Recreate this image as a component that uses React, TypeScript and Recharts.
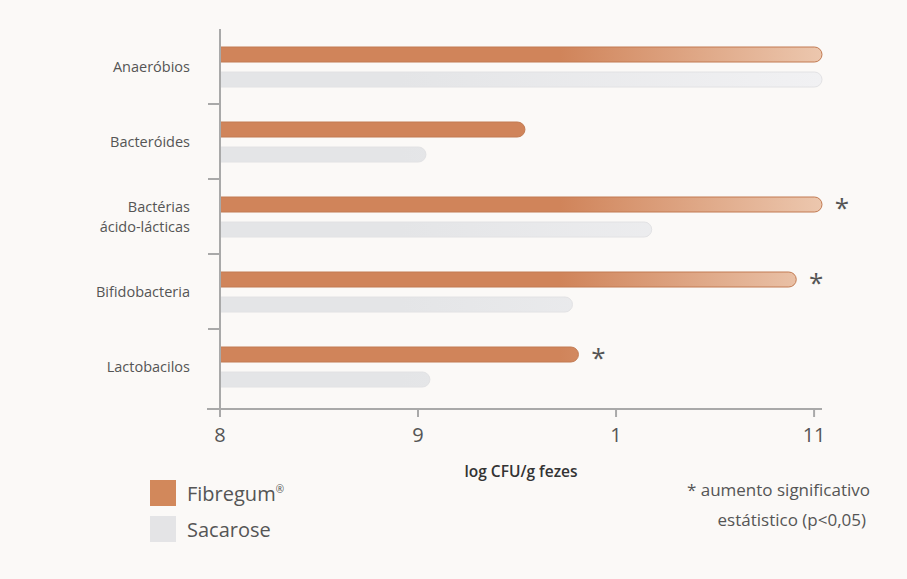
import React from 'react';
import { BarChart, Bar, XAxis, YAxis, LabelList, Label } from 'recharts';

const categories = ['Anaeróbios', 'Bacteróides', 'Bactérias\nácido-lácticas', 'Bifidobacteria', 'Lactobacilos'];
const fibregum = [11.04, 9.54, 11.04, 10.91, 9.81];
const sacarose = [11.04, 9.04, 10.18, 9.78, 9.06];
const significant = [false, false, true, true, true];
const xTicks = [8, 9, 10, 11];
const xTickLabels = ['8', '9', '1', '11'];
const seriesNames = ['Fibregum', 'Sacarose'];
const seriesColors = ['#d2885b', '#e4e4e6'];

const data = categories.map((name, i) => ({
  name,
  fibregum: fibregum[i],
  sacarose: sacarose[i],
}));

const FONT = '"Open Sans", sans-serif';
const TEXT = '#555555';
const AXIS = '#a9a9a9';
const HALF_BAND = 37.5;

function CategoryTick(props: any) {
  const { x, y, payload, index } = props;
  const lines = String(payload.value).split('\n');
  const lh = 20;
  const startY = y - ((lines.length - 1) * lh) / 2;
  return (
    <g>
      {index > 0 && (
        <line x1={x + 18} x2={x + 31} y1={y - HALF_BAND} y2={y - HALF_BAND} stroke={AXIS} strokeWidth={2} />
      )}
      {index === categories.length - 1 && (
        <line x1={x + 17} x2={x + 30} y1={y + HALF_BAND + 5} y2={y + HALF_BAND + 5} stroke={AXIS} strokeWidth={2} />
      )}
      {lines.map((l, i) => (
        <text
          key={i}
          x={x}
          y={startY + i * lh}
          textAnchor="end"
          fill={TEXT}
          fontSize={14.5}
          fontFamily={FONT}
          dominantBaseline="central"
        >
          {l}
        </text>
      ))}
    </g>
  );
}

function Asterisk(props: any) {
  const { x, y, width, height, index } = props;
  if (!significant[index]) return null;
  return (
    <text x={x + width + 20} y={y + height / 2 + 12} textAnchor="middle" fill={TEXT} fontSize={26} fontFamily={FONT}>
      *
    </text>
  );
}

export default function App() {
  return (
    <div
      style={{
        position: 'absolute',
        left: 0,
        top: 0,
        width: 907,
        height: 579,
        background: '#fbf9f7',
        fontFamily: FONT,
      }}
    >
      <BarChart
        width={907}
        height={579}
        data={data}
        layout="vertical"
        margin={{ top: 29, right: 85, bottom: 100, left: 0 }}
        barSize={15}
        barGap={10}
      >
        <defs>
          <linearGradient id="orangeGrad" gradientUnits="userSpaceOnUse" x1="560" y1="0" x2="822" y2="0">
            <stop offset="0%" stopColor="#d0845a" />
            <stop offset="100%" stopColor="#ecc7ae" />
          </linearGradient>
          <linearGradient id="grayGrad" gradientUnits="userSpaceOnUse" x1="400" y1="0" x2="822" y2="0">
            <stop offset="0%" stopColor="#e4e5e7" />
            <stop offset="100%" stopColor="#f1f1f3" />
          </linearGradient>
        </defs>
        <XAxis
          type="number"
          domain={[8, 11.04]}
          ticks={xTicks}
          tickFormatter={(v: number) => xTickLabels[xTicks.indexOf(v)]}
          stroke={AXIS}
          strokeWidth={2}
          tickSize={8}
          tickMargin={11}
          height={70}
          tick={{ fill: TEXT, fontSize: 20, fontFamily: FONT }}
        >
          <Label
            value="log CFU/g fezes"
            position="insideBottom"
            offset={2}
            style={{ fill: '#333333', fontSize: 15.5, fontFamily: FONT, fontWeight: 600 }}
          />
        </XAxis>
        <YAxis
          type="category"
          dataKey="name"
          width={220}
          stroke={AXIS}
          strokeWidth={2}
          tickLine={false}
          tickSize={0}
          tickMargin={30}
          padding={{ top: 0, bottom: 5 }}
          tick={<CategoryTick />}
          interval={0}
        />
        <Bar
          dataKey="fibregum"
          name={seriesNames[0]}
          fill="url(#orangeGrad)"
          stroke="#c27b52"
          strokeWidth={1}
          radius={[0, 7.5, 7.5, 0]}
          isAnimationActive={false}
        >
          <LabelList dataKey="fibregum" content={<Asterisk />} />
        </Bar>
        <Bar
          dataKey="sacarose"
          name={seriesNames[1]}
          fill="url(#grayGrad)"
          stroke="#e2e2e4"
          strokeWidth={1}
          radius={[0, 7.5, 7.5, 0]}
          isAnimationActive={false}
        />
      </BarChart>
      <div style={{ position: 'absolute', left: 150, top: 475 }}>
        {seriesNames.map((n, i) => (
          <div key={n} style={{ display: 'flex', alignItems: 'center', height: 36 }}>
            <div style={{ width: 26, height: 26, background: seriesColors[i], marginRight: 11 }} />
            <span style={{ fontSize: 20, color: TEXT }}>
              {n}
              {i === 0 && <sup style={{ fontSize: 10 }}>®</sup>}
            </span>
          </div>
        ))}
      </div>
      <div
        style={{
          position: 'absolute',
          right: 37,
          top: 475,
          textAlign: 'right',
          color: TEXT,
          fontSize: 17,
          lineHeight: '30px',
          fontFamily: FONT,
        }}
      >
        <div>* aumento significativo</div>
        <div style={{ paddingRight: 4 }}>estátistico (p&lt;0,05)</div>
      </div>
    </div>
  );
}
